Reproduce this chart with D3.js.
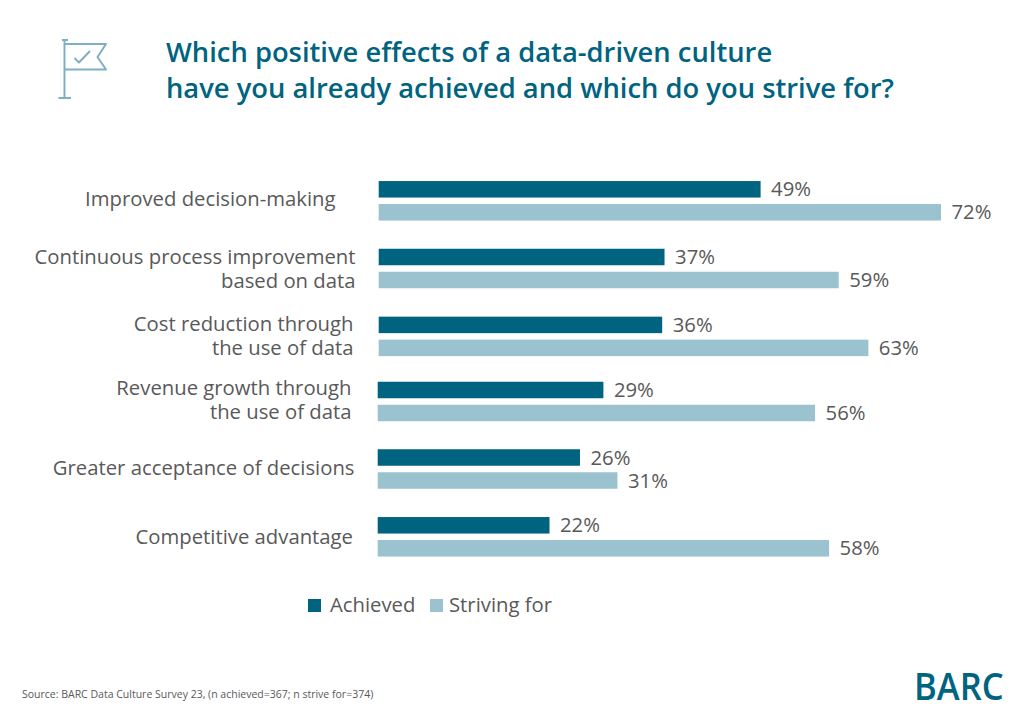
<!DOCTYPE html>
<html><head><meta charset="utf-8">
<script src="https://cdn.jsdelivr.net/npm/d3@7"></script>
<style>html,body{margin:0;padding:0;background:#fff}svg{display:block}text{font-family:"Open Sans",sans-serif}</style>
</head><body><svg id="c" width="1024" height="717"></svg>
<script>
const categories = [
  ["Improved decision-making"],
  ["Continuous process improvement","based on data"],
  ["Cost reduction through","the use of data"],
  ["Revenue growth through","the use of data"],
  ["Greater acceptance of decisions"],
  ["Competitive advantage"]
];
const seriesNames = ["Achieved","Striving for"];
const achieved = [48.9,36.6,36.3,28.9,25.9,22];
const striving = [72,58.9,62.7,56,30.7,57.8];
const achievedLabels = ["49%","37%","36%","29%","26%","22%"];
const strivingLabels = ["72%","59%","63%","56%","31%","58%"];
const titleLines = ["Which positive effects of a data-driven culture","have you already achieved and which do you strive for?"];
const sourceText = "Source: BARC Data Culture Survey 23, (n achieved=367; n strive for=374)";

const DARK="#00637f", LIGHT="#9ac2cf", TXT="#595959";
const svg=d3.select("#c");
const x=d3.scaleLinear().domain([0,72]).range([378.7,941]);
const y=d3.scalePoint().domain(d3.range(categories.length)).range([200.8,536.8]);
const rowNudge=[0,0.5,1.2,-0.9,-0.6,0];
const rowDx=[0,0,0,-1,-1,-1];
const labelEnd=[335.5,355.5,353.5,351.5,354.5,353];
const labelDy=[-2,0.5,0,-2,-1,0];
const color=d3.scaleOrdinal().domain(seriesNames).range([DARK,LIGHT]);
const BAR=16.5, OFF=11.5;

svg.append("g").selectAll("text").data(titleLines).join("text")
  .attr("x",166).attr("y",(d,i)=>62+i*36).attr("font-size",27.35).attr("font-weight",600).attr("fill",DARK).text(d=>d);

const rows=svg.append("g").selectAll("g").data(categories).join("g")
  .attr("transform",(d,i)=>`translate(0,${y(i)+rowNudge[i]})`);
rows.each(function(lines,i){
  const g=d3.select(this);
  const top=(lines.length===1?7:-5)+labelDy[i];
  lines.forEach((l,k)=>g.append("text").attr("text-anchor","end").attr("font-size",20.3).attr("fill",TXT)
    .attr("x",labelEnd[i]).attr("y",top+k*24).text(l));
  [[achieved[i],achievedLabels[i],-OFF,seriesNames[0]],[striving[i],strivingLabels[i],OFF,seriesNames[1]]].forEach(([v,lab,o,s])=>{
    g.append("rect").attr("x",x(0)+rowDx[i]).attr("y",o-BAR/2).attr("width",x(v)-x(0)).attr("height",BAR).attr("fill",color(s));
    g.append("text").attr("x",x(v)+rowDx[i]+10.5).attr("y",o+7).attr("font-size",20.3).attr("fill",TXT).text(lab);
  });
});

const leg=svg.append("g");
[[308,330],[430,449]].forEach(([sx,tx],i)=>{
  leg.append("rect").attr("x",sx).attr("y",599).attr("width",13).attr("height",13).attr("fill",color(seriesNames[i]));
  leg.append("text").attr("x",tx).attr("y",612).attr("font-size",20.3).attr("fill",TXT).text(seriesNames[i]);
});

svg.append("text").attr("x",22).attr("y",698).attr("font-size",10.5).attr("fill",TXT).text(sourceText);

svg.append("text").attr("transform","translate(914,700) scale(0.91,1)").attr("font-size",38).attr("font-weight",600).attr("fill",DARK).text("BARC");

const icon=svg.append("g").attr("fill","none").attr("stroke","#7fb0c2").attr("stroke-width",2).attr("stroke-linejoin","round");
const line=d3.line();
icon.append("path").attr("d",line([[64.5,40],[64.5,98]]));
icon.append("path").attr("d",line([[62,40],[68,40]]));
icon.append("path").attr("d",line([[58.5,98],[71,98]]));
icon.append("path").attr("d",line([[64.5,44],[106,44],[97.5,57],[106,69.5],[64.5,69.5]]));
icon.append("path").attr("d",line([[74.5,58],[79,62.5],[90,51]]));
</script></body></html>
